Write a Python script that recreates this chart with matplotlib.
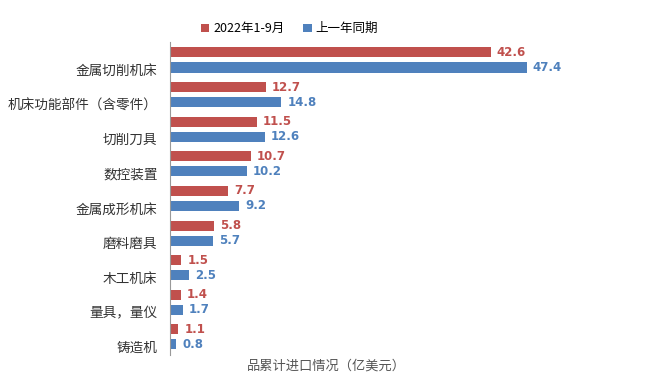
import matplotlib
matplotlib.use("Agg")
import matplotlib.pyplot as plt
import numpy as np

plt.rcParams['font.family'] = ['Noto Sans CJK SC', 'DejaVu Sans']

# Data
categories = ['金属切削机床', '机床功能部件（含零件）', '切削刀具', '数控装置',
              '金属成形机床', '磨料磨具', '木工机床', '量具，量仪', '铸造机']
cur_year = [42.6, 12.7, 11.5, 10.7, 7.7, 5.8, 1.5, 1.4, 1.1]
last_year = [47.4, 14.8, 12.6, 10.2, 9.2, 5.7, 2.5, 1.7, 0.8]
series_names = ['2022年1-9月', '上一年同期']

red = '#C0504D'
blue = '#4F81BD'

fig = plt.figure(figsize=(6.5, 3.85), dpi=100)
ax = fig.add_axes([0.2615, 0.078, 0.66, 0.813])

y = np.arange(len(categories))
h = 0.29
off = 0.217
ax.barh(y - off, cur_year, height=h, color=red, label=series_names[0])
ax.barh(y + off, last_year, height=h, color=blue, label=series_names[1])

for yi, v in zip(y, cur_year):
    ax.text(v + 0.8, yi - off, f'{v:.1f}', va='center', ha='left',
            color=red, fontsize=8.5, fontweight='bold', family='DejaVu Sans')
for yi, v in zip(y, last_year):
    ax.text(v + 0.8, yi + off, f'{v:.1f}', va='center', ha='left',
            color=blue, fontsize=8.5, fontweight='bold', family='DejaVu Sans')

# labels sit a little below the group centre, as in the original
ax.set_yticks(y + 0.27)
ax.set_yticklabels(categories, fontsize=9.8, color='#333333')
ax.set_ylim(8.52, -0.52)
ax.set_xlim(0, 57)
ax.set_xticks([])
ax.tick_params(axis='y', length=0, pad=9)
for s in ['top', 'right', 'bottom']:
    ax.spines[s].set_visible(False)
ax.spines['left'].set_color('#999999')

fig.legend(loc='center', bbox_to_anchor=(0.445, 0.925), ncol=2, frameon=False,
           fontsize=9, handlelength=0.7, handleheight=0.7, handletextpad=0.3,
           columnspacing=1.5)

fig.text(0.38, 0.05, '品累计进口情况（亿美元）', fontsize=9.5, color='#555555',
         ha='left', va='center')

fig.savefig('out.png', dpi=100)
